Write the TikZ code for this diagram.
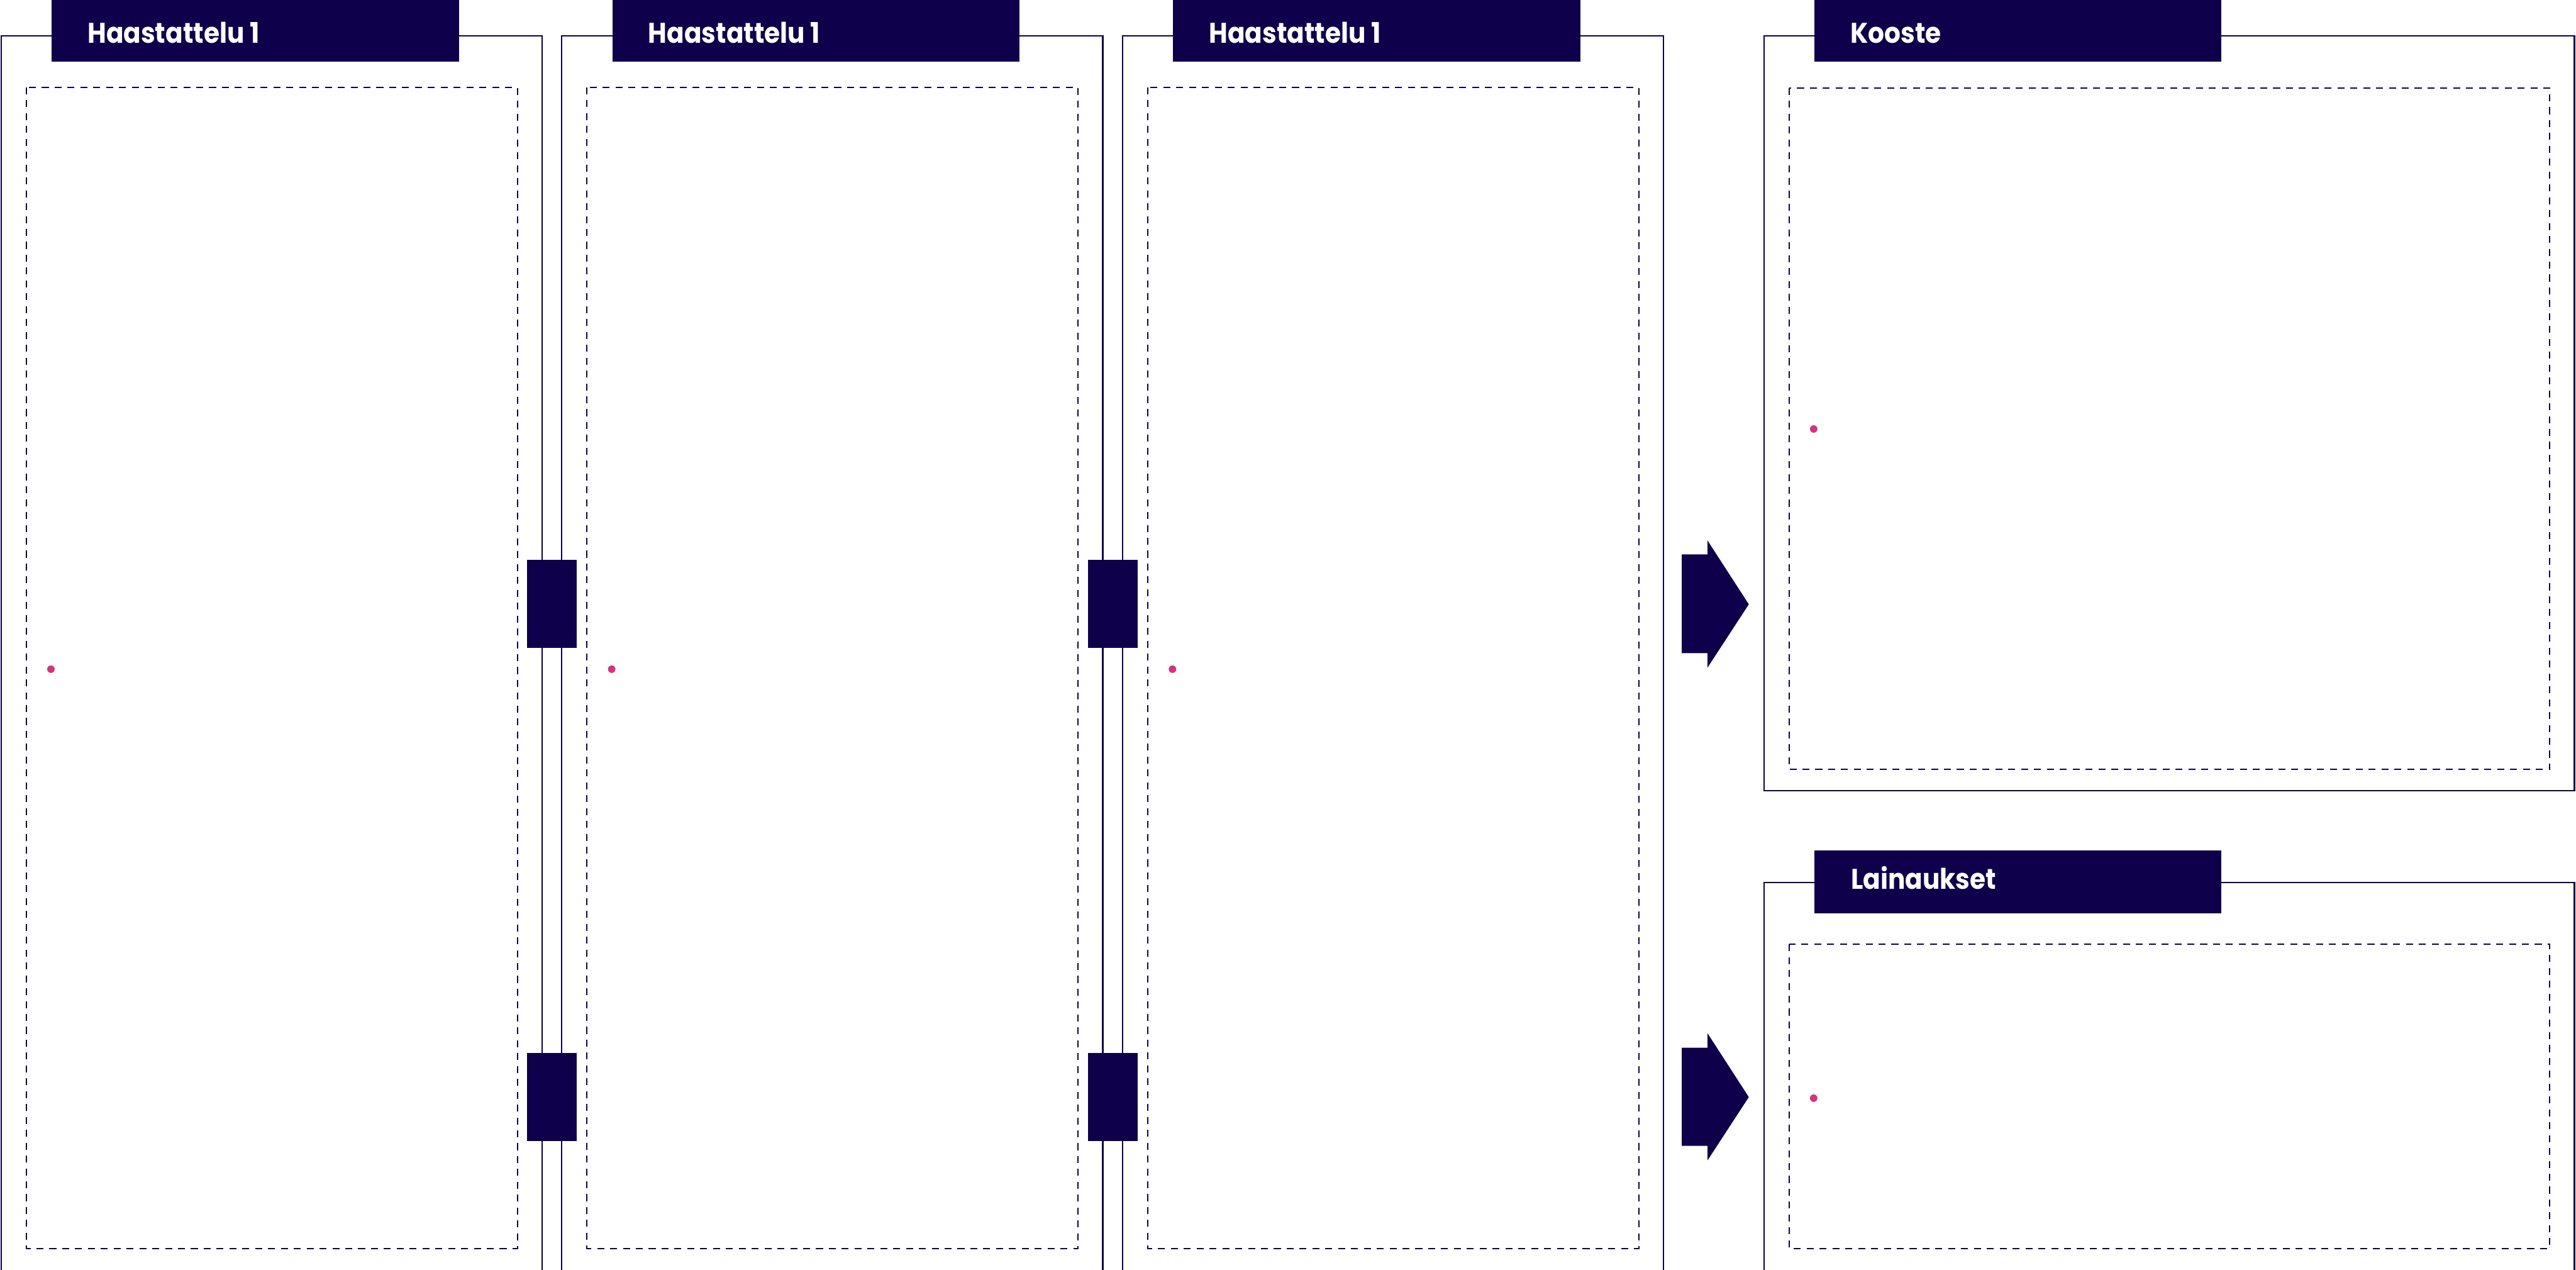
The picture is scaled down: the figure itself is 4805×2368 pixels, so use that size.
\documentclass[tikz,border=0pt]{standalone}
\usepackage{fontspec}
\newfontfamily\hfont{Poppins}[FakeStretch=0.9]
\definecolor{navy}{HTML}{0E004A}
\definecolor{pinkdot}{HTML}{D3337F}
\tikzset{
  px/.style={x=0.5pt,y=-0.5pt},
  frameline/.style={draw=navy,line width=1.25pt},
  dashbox/.style={draw=navy,line width=1.2pt,dash pattern=on 6.5pt off 5.5pt},
  headbox/.style={fill=navy},
  headtext/.style={text=white,font=\hfont\fontsize{26.5}{26.5}\selectfont\bfseries,inner sep=0pt,anchor=base west},
  linkbox/.style={fill=navy},
  dotmark/.style={fill=pinkdot},
}
\begin{document}
\begin{tikzpicture}[px]
\useasboundingbox (0,0) rectangle (4805,2368);
\clip (0,0) rectangle (4805,2368);
% three interview frames
\foreach \i in {0,1,2}{
  \pgfmathsetmacro{\dx}{1046*\i}
  \begin{scope}[xshift=\dx*0.5pt]
    \draw[frameline] (2,2380) -- (2,67) -- (1011,67) -- (1011,2380);
    \draw[dashbox] (49,163) rectangle (965,2328);
    \fill[headbox] (96,-5) rectangle (856,115);
    \node[headtext] (h\i) at (163,80) {Haastattelu 1};
    \fill[dotmark] (95,1248) circle (7);
  \end{scope}
}
% link blocks between frames
\foreach \i in {0,1}{
  \pgfmathsetmacro{\dx}{1046*\i}
  \begin{scope}[xshift=\dx*0.5pt]
    \fill[linkbox] (983,1044) rectangle (1076,1208);
    \fill[linkbox] (983,1964) rectangle (1076,2128);
  \end{scope}
}
% arrows
\fill[navy] (3137,1034) -- (3185,1034) -- (3185,1008) -- (3262,1127) -- (3185,1245) -- (3185,1218) -- (3137,1218) -- cycle;
\fill[navy] (3137,1954) -- (3185,1954) -- (3185,1927) -- (3262,2046) -- (3185,2164) -- (3185,2137) -- (3137,2137) -- cycle;
% Kooste
\draw[frameline] (3290,67) rectangle (4802,1475);
\draw[dashbox] (3337,164) rectangle (4756,1435);
\fill[headbox] (3384,-5) rectangle (4143,115);
\node[headtext] (kooste) at (3451,80) {Kooste};
\fill[dotmark] (3383,800) circle (7);
% Lainaukset
\draw[frameline] (3290,2380) -- (3290,1646) -- (4802,1646) -- (4802,2380);
\draw[dashbox] (3337,1761) rectangle (4756,2328);
\fill[headbox] (3384,1586) rectangle (4143,1703);
\node[headtext] (lain) at (3452,1658) {Lainaukset};
\fill[dotmark] (3383,2048) circle (7);
\end{tikzpicture}
\end{document}
